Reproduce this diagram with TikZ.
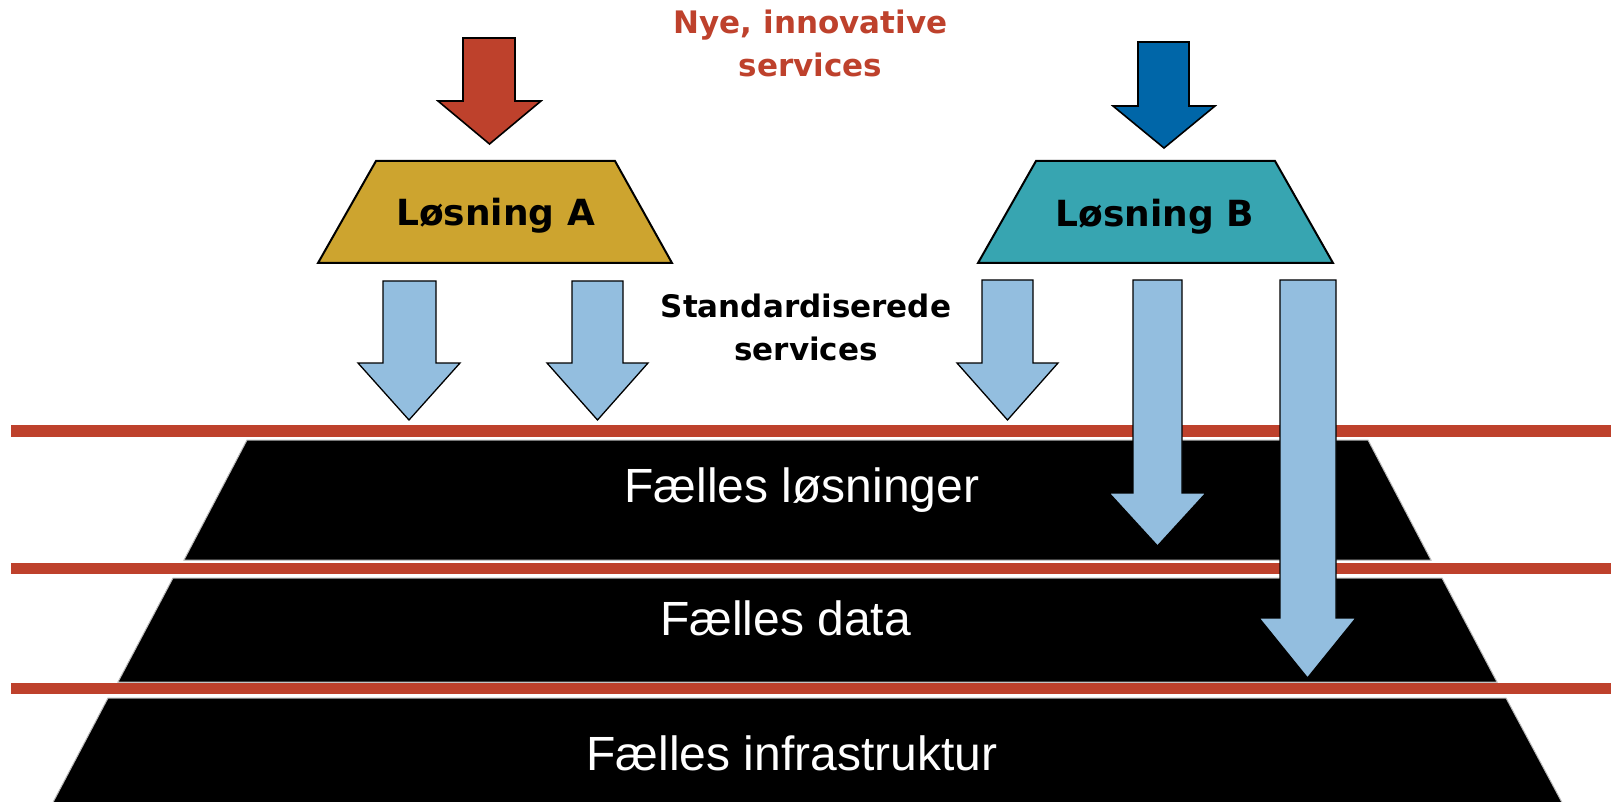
\documentclass[tikz,border=0pt]{standalone}
\usepackage{fontspec}
\newfontfamily\dvs{DejaVu Sans}
\newfontfamily\lib{Liberation Sans}
\definecolor{redc}{HTML}{BE412C}
\definecolor{darkblue}{HTML}{0066A8}
\definecolor{goldc}{HTML}{CDA42F}
\definecolor{tealc}{HTML}{37A5B1}
\definecolor{lightb}{HTML}{93BEDF}
\newcommand{\dnarrow}[8]{%
  \draw[#1] (#2,#4) -- (#3,#4) -- (#3,#5) -- (#7,#5) -- ({(#6+#7)/2},#8) -- (#6,#5) -- (#2,#5) -- cycle;}
\begin{document}
\begin{tikzpicture}[x=1pt,y=-1pt,
  layer/.style={fill=black,draw=gray!55,line width=1},
  redline/.style={fill=redc},
  trap/.style={draw=black,line width=2,line join=miter},
  bigarrow/.style={draw=black,line width=1.6,line join=miter},
  smallarrow/.style={fill=lightb,draw=black,line width=1.3,line join=miter},
  layertext/.style={text=white,font=\lib\fontsize{48}{57}\selectfont,anchor=base,inner sep=0},
  boldtext/.style={font=\dvs\bfseries\fontsize{31}{37}\selectfont,anchor=base,inner sep=0},
  soltext/.style={font=\dvs\bfseries\fontsize{36}{43}\selectfont,anchor=base,inner sep=0}]
\useasboundingbox (0,0) rectangle (1612,802);
\fill[white] (0,0) rectangle (1612,802);
% layers
\draw[layer] (247,440) -- (1368,440) -- (1431,560) -- (184,560) -- cycle;
\draw[layer] (173,578) -- (1442,578) -- (1497,682) -- (118,682) -- cycle;
\draw[layer] (108,698) -- (1506,698) -- (1566,810) -- (49,810) -- cycle;
\node[layertext] (l1) at (802,502) {Fælles løsninger};
\node[layertext] (l2) at (785.5,635) {Fælles data};
\node[layertext] (l3) at (792,770) {Fælles infrastruktur};
% red lines
\fill[redline] (11,425) rectangle (1611,437);
\fill[redline] (11,563) rectangle (1611,574);
\fill[redline] (11,683) rectangle (1611,694);
% solutions
\draw[trap,fill=goldc] (376,161) -- (615,161) -- (672,263) -- (318,263) -- cycle;
\draw[trap,fill=tealc] (1036,161) -- (1275,161) -- (1333,263) -- (978,263) -- cycle;
\node[soltext] (solA) at (495.5,226) {Løsning A};
\node[soltext] (solB) at (1155,227) {Løsning B};
% top arrows
\dnarrow{bigarrow,fill=redc}{463}{515}{38}{101}{438}{541}{144}
\dnarrow{bigarrow,fill=darkblue}{1138}{1189}{42}{106}{1113}{1215}{148}
% texts
\node[boldtext,text=redc] (nye1) at (810.5,34) {Nye, innovative};
\node[boldtext,text=redc] (nye2) at (810.5,77) {services};
\node[boldtext] (std1) at (806,318) {Standardiserede};
\node[boldtext] (std2) at (806,360) {services};
% standardised service arrows
\dnarrow{smallarrow}{383}{436}{281}{363}{358}{460}{420}
\dnarrow{smallarrow}{572}{623}{281}{363}{547}{648}{420}
\dnarrow{smallarrow}{982}{1033}{280}{363}{957}{1058}{420}
\dnarrow{smallarrow}{1133}{1182}{280}{493}{1109}{1206}{546}
\dnarrow{smallarrow}{1280}{1336}{280}{618}{1259}{1356}{678}
\end{tikzpicture}
\end{document}
